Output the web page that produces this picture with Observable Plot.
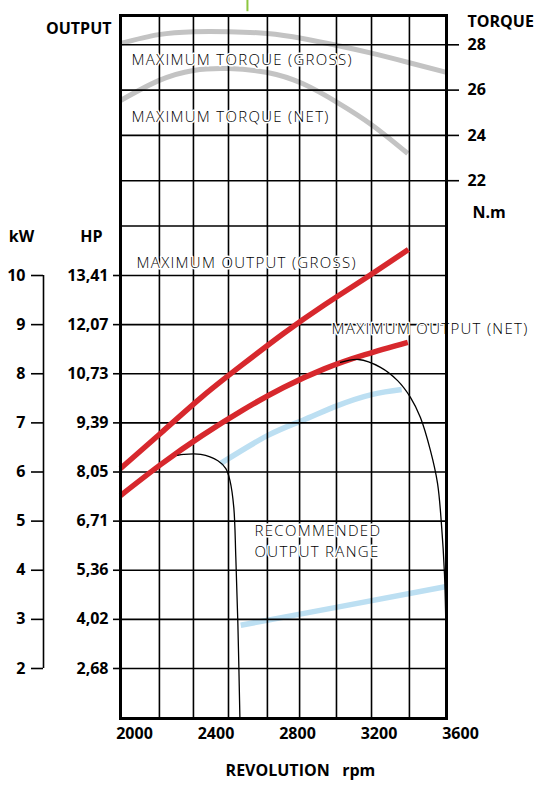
<!DOCTYPE html>
<html><head><meta charset="utf-8">
<script src="https://cdn.jsdelivr.net/npm/d3@7"></script>
<script src="https://cdn.jsdelivr.net/npm/@observablehq/plot@0.6"></script>
<style>body{margin:0;background:#fff}</style>
</head><body><div id="chart"></div>
<script>
// ---- data ----
const xTicks = [2000, 2400, 2800, 3200, 3600];
const gridRpm = [2191, 2358, 2530, 2721, 2879, 3060, 3232, 3418];
const kwTicks = [2, 3, 4, 5, 6, 7, 8, 9, 10];
const hpLabels = ["2,68", "4,02", "5,36", "6,71", "8,05", "9,39", "10,73", "12,07", "13,41"];
const torqueTicks = [28, 26, 24, 22];
const torqueGrid = [20, 22, 24, 26, 28];

const rpmOutGross = [2000, 2200, 2400, 2600, 2800, 3000, 3200, 3413];
const kwOutGross  = [6.07, 6.80, 7.53, 8.19, 8.82, 9.40, 9.94, 10.53];
const rpmOutNet = [2000, 2200, 2400, 2600, 2800, 3000, 3200, 3410];
const kwOutNet  = [5.52, 6.16, 6.74, 7.26, 7.72, 8.10, 8.39, 8.64];

const rpmRangeTop = [2490, 2721, 2893, 3065, 3237, 3380];
const kwRangeTop  = [6.17, 6.74, 7.05, 7.35, 7.58, 7.68];
const rpmRangeLow = [2590, 3065, 3600];
const kwRangeLow  = [2.88, 3.25, 3.67];

const rpmLimitLeft = [2281, 2310, 2394, 2478, 2517, 2537, 2556, 2566, 2576, 2586];
const kwLimitLeft  = [6.34, 6.36, 6.36, 6.23, 6.07, 5.83, 5.28, 4.26, 2.92, 1.0];
const rpmLimitRight = [3080, 3168, 3276, 3360, 3423, 3472, 3521, 3556, 3575, 3590, 3598, 3600];
const kwLimitRight  = [8.23, 8.29, 8.13, 7.86, 7.52, 7.11, 6.44, 5.77, 4.95, 3.93, 2.57, 1.0];

const rpmTqGross = [2000, 2187, 2358, 2530, 2721, 2893, 3065, 3237, 3413, 3600];
const nmTqGross  = [28.06, 28.45, 28.58, 28.58, 28.50, 28.28, 27.97, 27.62, 27.22, 26.78];
const rpmTqNet = [2000, 2187, 2358, 2530, 2721, 2893, 3065, 3237, 3410];
const nmTqNet  = [25.54, 26.42, 26.87, 26.95, 26.78, 26.29, 25.45, 24.44, 23.20];

// torque (N.m) shares the chart with power (kW): linear mapping between the two axes
const toKw = t => 13.313 + 0.4611 * (t - 25);

const zip = (xs, ys) => xs.map((x, i) => ({x, y: ys[i]}));

const curveLabels = [
  {x: 2054, y: toKw(27.40), text: "MAXIMUM TORQUE (GROSS)"},
  {x: 2054, y: toKw(24.88), text: "MAXIMUM TORQUE (NET)"},
  {x: 2079, y: 10.285, text: "MAXIMUM OUTPUT (GROSS)"},
  {x: 3036, y: 8.94, text: "MAXIMUM OUTPUT (NET)"},
  {x: 2658, y: 4.62, text: "RECOMMENDED\nOUTPUT RANGE"}
];

const red = "#d7282d", blue = "#bcdff2", grey = "#c3c3c3";
const lw = {strokeWidth: 5.5, curve: "natural", strokeLinecap: "butt"};

const chart = Plot.plot({
  width: 539, height: 789,
  marginTop: 15, marginBottom: 71, marginLeft: 120, marginRight: 93,
  style: {fontFamily: "'Open Sans', sans-serif", fontSize: "16px", fontWeight: "bold", color: "black", background: "white"},
  x: {domain: [2000, 3600]},
  y: {domain: [0.982, 15.293]},
  marks: [
    // curves under grid
    Plot.line(zip(rpmTqGross, nmTqGross.map(toKw)), {x: "x", y: "y", stroke: grey, ...lw, strokeWidth: 5}),
    Plot.line(zip(rpmTqNet, nmTqNet.map(toKw)), {x: "x", y: "y", stroke: grey, ...lw, strokeWidth: 5}),
    Plot.line(zip(rpmRangeTop, kwRangeTop), {x: "x", y: "y", stroke: blue, ...lw}),
    Plot.line(zip(rpmRangeLow, kwRangeLow), {x: "x", y: "y", stroke: blue, ...lw}),
    // grid
    Plot.ruleY([...kwTicks, ...torqueGrid.map(toKw)], {stroke: "black", strokeWidth: 1.6}),
    Plot.ruleX(gridRpm, {stroke: "black", strokeWidth: 1.6}),
    // output curves
    Plot.line(zip(rpmOutGross, kwOutGross), {x: "x", y: "y", stroke: red, ...lw}),
    Plot.line(zip(rpmOutNet, kwOutNet), {x: "x", y: "y", stroke: red, ...lw}),
    Plot.line(zip(rpmLimitLeft, kwLimitLeft), {x: "x", y: "y", stroke: "black", strokeWidth: 1.3, curve: "catmull-rom"}),
    Plot.line(zip(rpmLimitRight, kwLimitRight), {x: "x", y: "y", stroke: "black", strokeWidth: 1.3, curve: "catmull-rom"}),
    // curve labels
    Plot.text(curveLabels, {x: "x", y: "y", text: "text", textAnchor: "start", fontSize: 15, fontWeight: 350,
      fill: "#000", stroke: "white", strokeWidth: 3, lineHeight: 1.4}),
    // axes
    Plot.axisX(xTicks, {anchor: "bottom", tickSize: 0, tickPadding: 9, dx: 14, tickFormat: d => String(d), label: null}),
    Plot.axisY(kwTicks, {anchor: "left", tickSize: 7, tickPadding: 5, strokeWidth: 1.6,
      tickFormat: d => hpLabels[kwTicks.indexOf(d)], label: null}),
    Plot.axisY(kwTicks, {anchor: "left", dx: -77, tickSize: 12, tickPadding: 6, strokeWidth: 1.6,
      tickFormat: d => String(d), label: null}),
    Plot.ruleX([2000], {y1: 2, y2: 10, dx: -77, stroke: "black", strokeWidth: 1.6}),
    Plot.axisY(torqueTicks.map(toKw), {anchor: "right", tickSize: 12, tickPadding: 9, strokeWidth: 1.6,
      tickFormat: d => String(Math.round((d - 13.313) / 0.4611 + 25)), label: null}),
    // axis titles
    Plot.text(["OUTPUT"], {frameAnchor: "top-left", dx: -9, dy: 7, textAnchor: "end"}),
    Plot.text(["TORQUE"], {frameAnchor: "top-right", dx: 21, dy: 0, textAnchor: "start"}),
    Plot.text(["N.m"], {y: [toKw(20.6)], frameAnchor: "right", dx: 26, textAnchor: "start"}),
    Plot.text(["HP"], {y: [10.79], frameAnchor: "left", dx: -29, textAnchor: "middle"}),
    Plot.text(["kW"], {y: [10.79], frameAnchor: "left", dx: -99, textAnchor: "middle"}),
    Plot.text(["REVOLUTION\u00a0\u00a0\u00a0rpm"], {x: [2883], frameAnchor: "bottom", dy: 57, textAnchor: "middle"}),
    // small green mark above the frame
    Plot.ruleX([2623], {y1: 15.37, y2: 15.6, stroke: "#8cc63f", strokeWidth: 2}),
    Plot.frame({stroke: "black", strokeWidth: 3})
  ]
});
chart.querySelectorAll('g[font-weight="350"]').forEach(g => g.setAttribute("letter-spacing", "1.3"));
document.getElementById("chart").appendChild(chart);
</script>
</body></html>
